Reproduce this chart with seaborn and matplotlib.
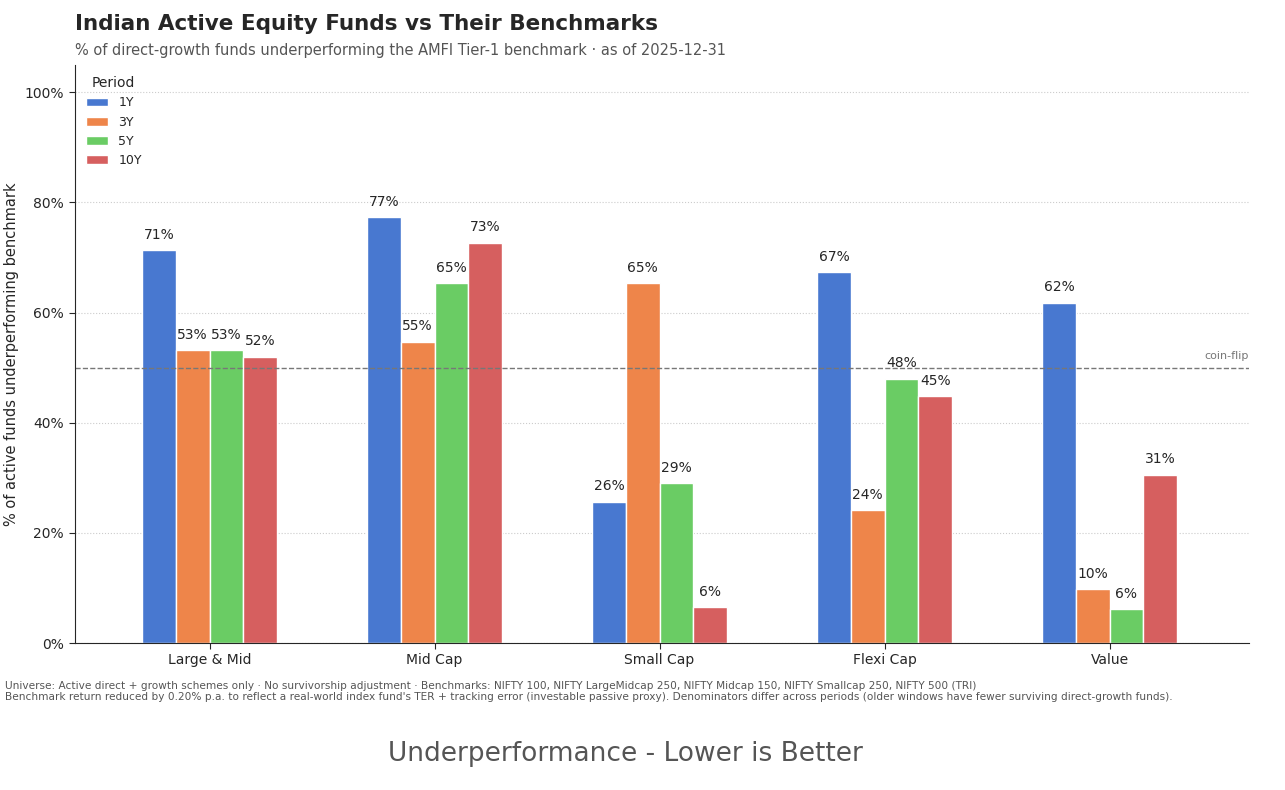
import matplotlib
matplotlib.use("Agg")
import matplotlib.pyplot as plt
import seaborn as sns
import pandas as pd
from matplotlib.ticker import PercentFormatter

categories = ["Large & Mid", "Mid Cap", "Small Cap", "Flexi Cap", "Value"]
periods = ["1Y", "3Y", "5Y", "10Y"]
pct_1y = [71.3, 77.3, 25.7, 67.4, 61.8]
pct_3y = [53.2, 54.7, 65.3, 24.1, 9.8]
pct_5y = [53.2, 65.3, 29.0, 48.0, 6.1]
pct_10y = [52.0, 72.7, 6.5, 44.8, 30.6]

rows = []
for period, vals in zip(periods, [pct_1y, pct_3y, pct_5y, pct_10y]):
    for cat, v in zip(categories, vals):
        rows.append({"Category": cat, "Period": period, "pct": v})
df = pd.DataFrame(rows)

sns.set_style("white")
plt.rcParams["font.family"] = ["DejaVu Sans"]

fig = plt.figure(figsize=(12.85, 7.9), dpi=100)
ax = fig.add_axes([0.058, 0.186, 0.914, 0.732])
sns.barplot(data=df, x="Category", y="pct", hue="Period", palette="muted",
            width=0.6, edgecolor="white", linewidth=1, ax=ax, saturation=1)

for cont in ax.containers:
    ax.bar_label(cont, labels=[f"{v:.0f}%" for v in cont.datavalues],
                 padding=6, fontsize=10)

ax.axhline(50, color="#777777", linestyle="--", linewidth=1)
ax.text(4.62, 51.2, "coin-flip", ha="right", va="bottom", fontsize=8, color="#777777")

ax.set_ylim(0, 105)
ax.set_xlim(-0.6, 4.62)
ax.yaxis.set_major_formatter(PercentFormatter(decimals=0))
ax.set_yticks([0, 20, 40, 60, 80, 100])
ax.grid(axis="y", linestyle=":", color="#cccccc", linewidth=0.8)
ax.set_axisbelow(True)
sns.despine(ax=ax)
ax.set_xlabel("")
ax.set_ylabel("% of active funds underperforming benchmark", fontsize=10.5)
ax.tick_params(axis="both", labelsize=10, length=4, left=True, bottom=True)

leg = ax.legend(title="Period", loc="upper left", frameon=False, fontsize=9,
                title_fontsize=10, handlelength=1.8)

fig.text(0.058, 0.962, "Indian Active Equity Funds vs Their Benchmarks",
         fontsize=15.5, fontweight="bold")
fig.text(0.058, 0.93, "% of direct-growth funds underperforming the AMFI Tier-1 benchmark · as of 2025-12-31",
         fontsize=10.5, color="#555555")
fig.text(0.004, 0.138,
         "Universe: Active direct + growth schemes only · No survivorship adjustment · Benchmarks: NIFTY 100, NIFTY LargeMidcap 250, NIFTY Midcap 150, NIFTY Smallcap 250, NIFTY 500 (TRI)\n"
         "Benchmark return reduced by 0.20% p.a. to reflect a real-world index fund's TER + tracking error (investable passive proxy). Denominators differ across periods (older windows have fewer surviving direct-growth funds).",
         fontsize=7.6, color="#555555", va="top", linespacing=1.1)
fig.text(0.487, 0.037, "Underperformance - Lower is Better", ha="center",
         fontsize=19, color="#555555")

fig.savefig("out.png", dpi=100)
